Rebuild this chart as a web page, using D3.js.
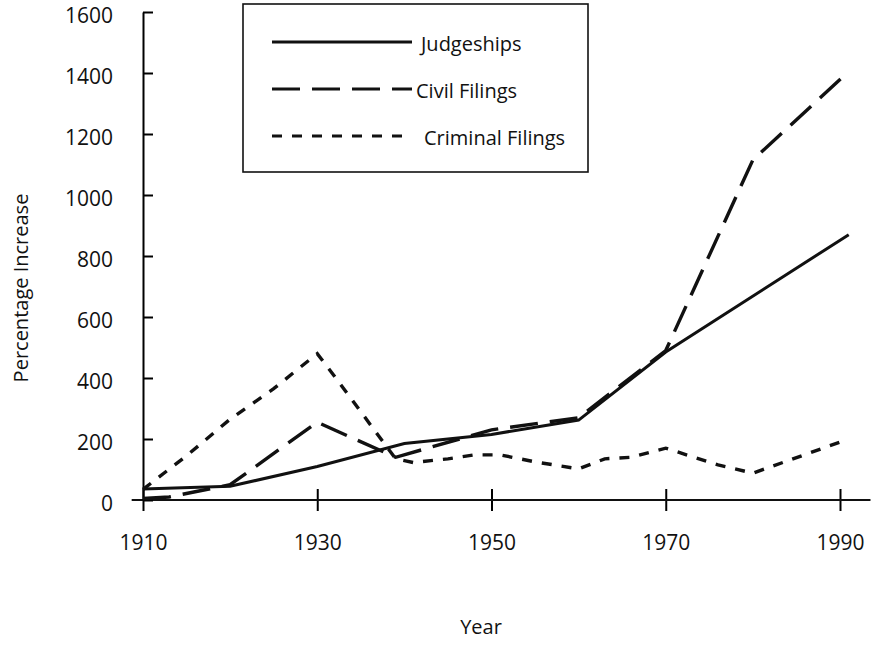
<!DOCTYPE html>
<html>
<head>
<meta charset="utf-8">
<script src="https://cdn.jsdelivr.net/npm/d3@7"></script>
<style>
  body { margin: 0; background: #fff; }
  .chart text { font-family: "Open Sans", sans-serif; fill: #111; }
</style>
</head>
<body>
<div class="chart"></div>
<script>
// Percentage increase since 1910
const judgeshipYears = [1910, 1920, 1930, 1940, 1950, 1960, 1970, 1991]
const judgeshipValues = [36, 45, 110, 185, 215, 262, 485, 870]

const civilYears = [1910, 1913, 1920, 1930, 1939, 1950, 1960, 1970, 1980, 1991]
const civilValues = [5, 10, 50, 255, 140, 230, 270, 490, 1115, 1405]

const criminalYears = [1910, 1915, 1920, 1925, 1930, 1932, 1939, 1941, 1945, 1948, 1951, 1955, 1960, 1963, 1966, 1970, 1976, 1980, 1991]
const criminalValues = [35, 145, 265, 365, 480, 405, 135, 123, 135, 148, 148, 125, 102, 135, 140, 170, 115, 88, 200]

const yearTicks = [1910, 1930, 1950, 1970, 1990]
const valueTicks = [0, 200, 400, 600, 800, 1000, 1200, 1400, 1600]

const seriesNames = ['Judgeships', 'Civil Filings', 'Criminal Filings']
const seriesDash = [null, '28,12', '10,10']

const width = 876
const height = 645

const svg = d3.select('.chart')
  .append('svg')
  .attr('width', width)
  .attr('height', height)

const xScale = d3.scaleLinear()
  .domain([1910, 1990])
  .range([143, 840])

const yScale = d3.scaleLinear()
  .domain([0, 1600])
  .range([500, 12])

// X-axis (ticks cross the line)
const xAxis = d3.axisBottom(xScale)
  .tickValues(yearTicks)
  .tickFormat(d3.format('d'))
  .tickSizeInner(11)
  .tickSizeOuter(0)
  .tickPadding(24)

const xg = svg.append('g')
  .attr('transform', `translate(0, ${yScale(0)})`)
  .call(xAxis)
xg.select('.domain').remove()
xg.selectAll('.tick line').attr('y1', -11).attr('stroke-width', 2)
xg.selectAll('.tick text').style('font-size', '21px')

svg.append('line')
  .attr('x1', xScale(1908.7))
  .attr('x2', xScale(1993.5))
  .attr('y1', yScale(0))
  .attr('y2', yScale(0))
  .attr('stroke', '#111')
  .attr('stroke-width', 2)

// Y-axis
const yAxis = d3.axisLeft(yScale)
  .tickValues(valueTicks)
  .tickFormat(d3.format('d'))
  .tickSizeInner(10)
  .tickSizeOuter(0)
  .tickPadding(20)

const yg = svg.append('g')
  .attr('transform', `translate(${xScale(1910)}, 0)`)
  .call(yAxis)
yg.select('.domain').attr('stroke-width', 2)
yg.selectAll('.tick line').attr('x2', 10).attr('stroke-width', 2)
yg.selectAll('.tick text')
  .style('font-size', '21px')
  .attr('dy', '0.48em')

// Lines
const line = d3.line()
  .x(d => xScale(d[0]))
  .y(d => yScale(d[1]))

const seriesData = [
  d3.zip(judgeshipYears, judgeshipValues),
  d3.zip(civilYears, civilValues),
  d3.zip(criminalYears, criminalValues)
]

svg.selectAll('.series')
  .data(seriesData)
  .enter()
  .append('path')
  .attr('class', 'series')
  .attr('d', line)
  .attr('fill', 'none')
  .attr('stroke', '#111')
  .attr('stroke-width', (d, i) => i === 0 ? 3 : 3.4)
  .attr('stroke-dasharray', (d, i) => seriesDash[i])

// Legend
const legend = svg.append('g')

legend.append('rect')
  .attr('x', 243)
  .attr('y', 4)
  .attr('width', 345)
  .attr('height', 168)
  .attr('fill', '#fff')
  .attr('stroke', '#111')
  .attr('stroke-width', 1.6)

seriesNames.forEach((name, i) => {
  const ly = 42 + i * 47
  legend.append('line')
    .attr('x1', 272)
    .attr('x2', i === 2 ? 406 : 412)
    .attr('y1', ly)
    .attr('y2', ly)
    .attr('stroke', '#111')
    .attr('stroke-width', i === 0 ? 3 : 3.2)
    .attr('stroke-dasharray', seriesDash[i])
  legend.append('text')
    .attr('x', i === 1 ? 416 : (i === 2 ? 424 : 421))
    .attr('y', ly + 3)
    .attr('dy', '0.32em')
    .style('font-size', '20px')
    .text(name)
})

// Axis titles
svg.append('text')
  .attr('transform', 'rotate(-90)')
  .attr('x', -288)
  .attr('y', 22)
  .attr('dy', '0.32em')
  .attr('text-anchor', 'middle')
  .style('font-size', '20px')
  .text('Percentage Increase')

svg.append('text')
  .attr('x', 481)
  .attr('y', 628)
  .attr('dy', '0.32em')
  .attr('text-anchor', 'middle')
  .style('font-size', '20px')
  .text('Year')
</script>
</body>
</html>
